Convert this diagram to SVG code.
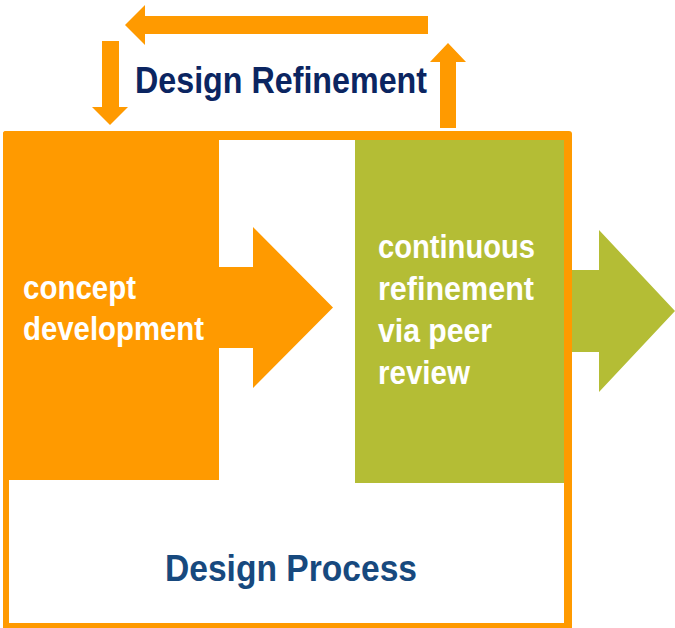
<svg xmlns="http://www.w3.org/2000/svg" width="675" height="628" viewBox="0 0 675 628">
  <style>
    .orange { fill: #FF9A00; }
    .green { fill: #B4BD35; }
    .lbl { font-family: "Liberation Sans", Arial, "Helvetica", sans-serif; font-weight: bold; }
    .white { fill: #FFFFFF; font-size: 33px; }
    .title1 { fill: #0B2561; font-size: 36px; }
    .title2 { fill: #17497E; font-size: 36px; }
  </style>
  <rect width="675" height="628" fill="#FFFFFF"/>
  <g id="frame">
    <rect class="orange" x="3" y="131" width="569" height="510" rx="3"/>
    <rect x="9" y="140" width="555" height="483" fill="#FFFFFF"/>
    <text class="lbl title2" x="165" y="581" textLength="252" lengthAdjust="spacingAndGlyphs">Design Process</text>
  </g>
  <g id="concept">
    <rect class="orange" x="3" y="131" width="216" height="349" rx="3"/>
    <rect class="orange" x="9" y="131" width="210" height="349"/>
    <text class="lbl white" x="23" y="299" textLength="113" lengthAdjust="spacingAndGlyphs">concept</text>
    <text class="lbl white" x="23" y="340" textLength="181" lengthAdjust="spacingAndGlyphs">development</text>
  </g>
  <g id="refinement">
    <rect class="green" x="355" y="140" width="209" height="343"/>
    <text class="lbl white" x="378" y="258" textLength="157" lengthAdjust="spacingAndGlyphs">continuous</text>
    <text class="lbl white" x="378" y="300" textLength="156" lengthAdjust="spacingAndGlyphs">refinement</text>
    <text class="lbl white" x="378" y="342" textLength="114" lengthAdjust="spacingAndGlyphs">via peer</text>
    <text class="lbl white" x="378" y="384" textLength="92" lengthAdjust="spacingAndGlyphs">review</text>
  </g>
  <g id="design-refinement-label">
    <text class="lbl title1" x="135" y="93" textLength="292" lengthAdjust="spacingAndGlyphs">Design Refinement</text>
  </g>
  <g id="connectors">
    <polygon class="orange" points="219,267 253,267 253,227 333,307.5 253,388 253,348 219,348"/>
    <polygon class="green" points="572,270 599,270 599,230 675,311 599,392 599,352 572,352"/>
    <polygon class="orange" points="428,16 145,16 145,5 125,25 145,45 145,34 428,34"/>
    <polygon class="orange" points="102,41 119,41 119,107 128,107 110,125 92,107 102,107"/>
    <polygon class="orange" points="440,128 456,128 456,62 466,62 448,43 430,62 440,62"/>
  </g>
</svg>
